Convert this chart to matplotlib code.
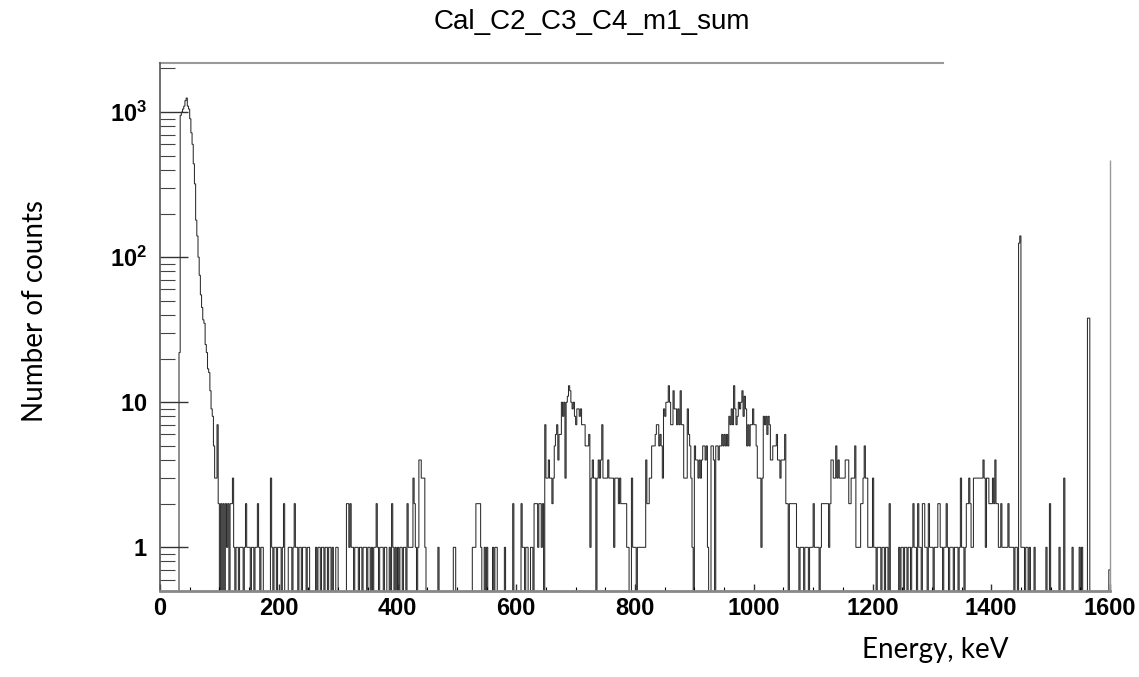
"""
Calibrated energy spectrum Cal_C2_C3_C4_m1_sum, ROOT-style log histogram.

Output: out.png
"""

import matplotlib.pyplot as plt
import numpy as np
from matplotlib.ticker import FixedLocator, LogLocator, MultipleLocator, NullFormatter
from matplotlib.transforms import blended_transform_factory

plt.rcParams["font.family"] = ["Liberation Sans", "DejaVu Sans"]
plt.rcParams["mathtext.fontset"] = "custom"
plt.rcParams["mathtext.bf"] = "Liberation Sans:bold"
plt.rcParams["mathtext.rm"] = "Liberation Sans:bold"

BIN_WIDTH = 2  # keV

# counts per 2 keV bin (one row = 50 keV)
PEAK_LOW = [  # 0 - 100 keV
    0, 0, 0, 0, 0, 0, 0, 0, 0, 0, 0, 0, 0, 0, 0, 0, 22, 950, 1000, 1050, 1100, 1200, 1250, 1100, 1050,
    900, 720, 600, 440, 320, 180, 140, 100, 75, 55, 45, 37, 35, 25, 22, 17, 16, 12, 9, 8, 5, 3, 3, 7, 2,
]
BACKGROUND = [  # 100 - 650 keV
    0, 2, 0, 2, 0, 2, 1, 2, 0, 2, 2, 3, 1, 0, 1, 1, 0, 1, 1, 1, 0, 1, 2, 1, 1,
    1, 0, 1, 1, 0, 1, 1, 2, 1, 0, 1, 1, 0, 0, 0, 0, 0, 0, 3, 1, 0, 1, 1, 0, 1,
    1, 1, 0, 1, 2, 0, 0, 0, 1, 1, 1, 0, 1, 2, 1, 1, 0, 1, 1, 0, 1, 1, 1, 0, 1,
    1, 0, 0, 0, 0, 0, 1, 0, 1, 1, 0, 1, 1, 0, 1, 1, 0, 1, 1, 0, 1, 0, 0, 1, 1,
    0, 0, 0, 0, 0, 0, 0, 2, 2, 1, 2, 1, 1, 0, 1, 1, 1, 0, 1, 1, 0, 1, 1, 1, 0,
    1, 1, 0, 1, 0, 1, 1, 2, 1, 0, 1, 1, 1, 0, 1, 1, 0, 0, 1, 0, 2, 1, 0, 1, 0,
    1, 0, 1, 1, 0, 1, 1, 0, 2, 1, 1, 1, 1, 3, 2, 1, 0, 1, 4, 4, 3, 3, 3, 1, 0,
    0, 0, 0, 0, 0, 0, 0, 0, 0, 1, 0, 0, 0, 0, 0, 0, 0, 0, 0, 0, 0, 0, 1, 1, 0,
    0, 0, 0, 0, 0, 0, 0, 0, 0, 0, 0, 0, 0, 1, 1, 1, 2, 2, 2, 2, 1, 0, 0, 1, 0,
    1, 0, 0, 0, 0, 1, 0, 1, 1, 0, 0, 0, 0, 0, 0, 1, 0, 0, 0, 0, 0, 0, 2, 0, 0,
    0, 0, 0, 0, 2, 1, 1, 0, 1, 1, 0, 0, 1, 1, 0, 2, 2, 2, 1, 2, 2, 1, 2, 0, 7,
]
BUMPS = [  # 650 - 1200 keV
    3, 3, 4, 3, 3, 2, 3, 5, 6, 7, 4, 6, 6, 10, 8, 10, 3, 10, 11, 13, 12, 10, 9, 10, 8,
    7, 9, 9, 8, 9, 7, 7, 7, 5, 5, 5, 6, 1, 3, 4, 3, 3, 0, 3, 4, 3, 4, 7, 3, 3,
    3, 3, 4, 3, 3, 3, 3, 1, 3, 3, 3, 2, 3, 2, 2, 2, 2, 2, 1, 1, 0, 0, 3, 1, 1,
    1, 0, 1, 1, 1, 1, 1, 1, 1, 4, 2, 2, 3, 3, 5, 5, 5, 6, 7, 7, 5, 6, 5, 3, 9,
    8, 10, 10, 13, 10, 7, 7, 12, 9, 9, 7, 9, 7, 12, 7, 7, 3, 3, 3, 9, 6, 5, 3, 1, 0,
    5, 4, 4, 3, 4, 3, 4, 5, 5, 4, 5, 1, 0, 0, 5, 5, 4, 0, 5, 5, 4, 5, 5, 6, 5,
    6, 5, 6, 5, 8, 7, 9, 7, 13, 9, 7, 8, 10, 9, 10, 12, 8, 11, 9, 5, 7, 5, 7, 7, 9,
    7, 7, 5, 3, 3, 3, 1, 3, 8, 7, 8, 6, 8, 7, 4, 4, 5, 5, 5, 6, 4, 4, 3, 4, 4,
    4, 6, 2, 2, 0, 2, 2, 2, 2, 2, 2, 1, 1, 0, 1, 1, 1, 0, 1, 1, 1, 0, 1, 1, 1,
    2, 1, 1, 1, 1, 0, 1, 2, 2, 2, 2, 2, 2, 1, 2, 4, 4, 3, 3, 5, 3, 4, 3, 3, 3,
    3, 3, 4, 4, 4, 2, 2, 3, 3, 3, 5, 1, 1, 1, 1, 2, 2, 3, 5, 3, 3, 1, 1, 1, 1,
]
HIGH = [  # 1200 - 1600 keV
    3, 1, 1, 0, 1, 1, 1, 0, 1, 1, 0, 1, 1, 0, 2, 0, 0, 0, 0, 0, 0, 0, 1, 0, 1,
    1, 0, 1, 1, 0, 1, 1, 0, 1, 2, 1, 1, 0, 2, 1, 1, 0, 2, 2, 1, 1, 0, 2, 1, 1,
    1, 0, 1, 1, 1, 2, 2, 1, 1, 0, 1, 1, 2, 1, 0, 1, 1, 1, 0, 1, 1, 1, 0, 1, 3,
    1, 1, 0, 1, 2, 2, 3, 2, 1, 1, 3, 3, 3, 3, 3, 3, 3, 3, 4, 3, 1, 3, 3, 2, 2,
    2, 3, 2, 4, 2, 2, 1, 1, 2, 1, 1, 1, 1, 1, 2, 1, 1, 1, 1, 0, 1, 1, 0, 125, 140,
    1, 1, 1, 0, 1, 1, 0, 1, 0, 0, 0, 1, 0, 0, 0, 0, 0, 0, 0, 0, 0, 1, 0, 0, 2,
    0, 0, 0, 0, 0, 0, 0, 1, 0, 0, 0, 3, 0, 0, 0, 0, 0, 0, 1, 0, 0, 0, 0, 0, 1,
    0, 1, 0, 0, 0, 0, 38, 38, 0, 0, 0, 0, 0, 0, 0, 0, 0, 0, 0, 0, 0, 0, 0, 0, 0.7,
]
EDGE_LINE = 470  # the lone line standing at the 1600 keV edge

Y_TICKS = [1, 10, 100, 1000]
Y_LABELS = [r"$\mathbf{1}$", r"$\mathbf{10}$", r"$\mathbf{10^{2}}$", r"$\mathbf{10^{3}}$"]

W, H = 1139, 677


def main():
    counts = np.array(PEAK_LOW + BACKGROUND + BUMPS + HIGH, dtype=float)
    edges = np.arange(len(counts) + 1) * BIN_WIDTH

    fig = plt.figure(figsize=(W / 100, H / 100), dpi=100)
    ax = fig.add_axes([160 / W, 1 - 591 / H, 950 / W, (591 - 63) / H])

    # zero bins drop below the axis like ROOT does
    shown = np.where(counts > 0, counts, 1e-3)
    ax.stairs(shown, edges, baseline=None, color="#2a2a2a", lw=0.75)
    ax.vlines(edges[-1], 0.5, EDGE_LINE, color="#999999", lw=1.0, clip_on=False)

    ax.set_yscale("log")
    ax.set_xlim(0, 1600)
    ax.set_ylim(0.5, 2180)

    ax.yaxis.set_major_locator(FixedLocator(Y_TICKS))
    ax.set_yticklabels(Y_LABELS)
    ax.yaxis.set_minor_locator(LogLocator(base=10, subs=np.arange(2, 10) * 1.0, numticks=20))
    ax.yaxis.set_minor_formatter(NullFormatter())
    ax.xaxis.set_major_locator(MultipleLocator(200))
    ax.xaxis.set_minor_locator(MultipleLocator(50))

    ax.tick_params(axis="y", which="major", direction="in", length=20, width=1,
                   pad=9, labelsize=17, color="#333333")
    ax.tick_params(axis="y", which="minor", direction="in", length=11, width=0.8,
                   color="#444444")
    ax.tick_params(axis="x", which="major", direction="in", length=5, width=1,
                   pad=4, labelsize=17, color="#333333")
    ax.tick_params(axis="x", which="minor", direction="in", length=3, width=0.8)
    for lbl in ax.get_xticklabels():
        lbl.set_fontweight("bold")

    ax.spines["right"].set_visible(False)
    ax.spines["top"].set_visible(False)
    ax.spines["left"].set_color("#555555")
    ax.spines["left"].set_linewidth(1.2)
    ax.spines["bottom"].set_color("#888888")
    ax.spines["bottom"].set_linewidth(2)

    # frame top only runs part of the way across
    trans = blended_transform_factory(ax.transAxes, ax.transAxes)
    ax.plot([0, 783 / 950], [1, 1], transform=trans, color="#999999", lw=1.5,
            clip_on=False)

    fig.text(592 / W, 1 - 22 / H, "Cal_C2_C3_C4_m1_sum", ha="center", va="center",
             fontsize=20)
    fig.text(35 / W, 1 - 311 / H, "Number of counts", rotation=90, ha="center",
             va="center", fontsize=20, family=["Lato", "DejaVu Sans"])
    fig.text(935 / W, 1 - 650 / H, "Energy, keV", ha="center", va="center",
             fontsize=20, family=["Lato", "DejaVu Sans"])

    fig.savefig("out.png", dpi=100)


if __name__ == "__main__":
    main()
